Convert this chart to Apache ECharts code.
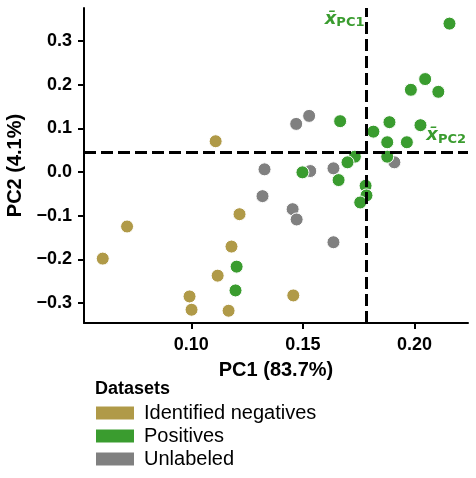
<!DOCTYPE html>
<html>
<head>
<meta charset="utf-8">
<script src="https://cdn.jsdelivr.net/npm/echarts@6/dist/echarts.min.js"></script>
<style>
  html, body { margin: 0; padding: 0; background: #fff; }
  #chart { width: 476px; height: 478px; }
</style>
</head>
<body>
<div id="chart"></div>
<script>
// PCA scores
const negativesPC1 = [0.1109, 0.0712, 0.0603, 0.1216, 0.1180, 0.1118, 0.0992, 0.1001, 0.1167, 0.1457];
const negativesPC2 = [0.0706, -0.1248, -0.1984, -0.0966, -0.1708, -0.2375, -0.2851, -0.3156, -0.3179, -0.2828];

const positivesPC1 = [0.2157, 0.2048, 0.1984, 0.2107, 0.1667, 0.1888, 0.2027, 0.1816, 0.1878, 0.1966,
                      0.1878, 0.1733, 0.1700, 0.1498, 0.1660, 0.1781, 0.1785, 0.1757, 0.1203, 0.1198];
const positivesPC2 = [0.3402, 0.2131, 0.1885, 0.1839, 0.1166, 0.1143, 0.1074, 0.0926, 0.0683, 0.0683,
                      0.0352, 0.0352, 0.0223, -0.0007, -0.0184, -0.0315, -0.0536, -0.0697, -0.2168, -0.2713];

const unlabeledPC1 = [0.1470, 0.1528, 0.1910, 0.1637, 0.1533, 0.1328, 0.1319, 0.1454, 0.1472, 0.1637];
const unlabeledPC2 = [0.1103, 0.1287, 0.0223, 0.0085, 0.0023, 0.0062, -0.0552, -0.0851, -0.1087, -0.1609];

const meanPC1 = 0.1785;
const meanPC2 = 0.045;

const xTicks = [0.10, 0.15, 0.20];
const yTicks = [-0.3, -0.2, -0.1, 0.0, 0.1, 0.2, 0.3];

const legendNames = ['Identified negatives', 'Positives', 'Unlabeled'];
const colors = { neg: '#b09a48', pos: '#3a9c2f', unl: '#808080' };

const zip = (xs, ys) => xs.map((x, i) => [x, ys[i]]);

const chart = echarts.init(document.getElementById('chart'));
const font = 'Liberation Sans, Arial, sans-serif';

const pointStyle = (c) => ({ color: c, borderColor: '#fff', borderWidth: 1, opacity: 1 });

chart.setOption({
    animation: false,
    grid: { left: 84, right: 8, top: 8, bottom: 155, outerBoundsMode: 'none', containLabel: false },
    title: {
        text: 'Datasets', left: 90, top: 375,
        textStyle: { fontFamily: font, fontWeight: 'bold', fontSize: 18, color: '#000' }
    },
    legend: {
        data: legendNames,
        orient: 'vertical', left: 89, top: 398,
        icon: 'rect', itemWidth: 40, itemHeight: 15, itemGap: 3,
        textStyle: { fontFamily: font, fontSize: 20, color: '#000', padding: [0, 0, 0, 4] }
    },
    xAxis: {
        type: 'value', min: 0.0519, max: 0.224,
        name: 'PC1 (83.7%)', nameLocation: 'middle', nameGap: 37,
        nameTextStyle: { fontFamily: font, fontWeight: 'bold', fontSize: 20, color: '#000' },
        splitLine: { show: false },
        axisLine: { onZero: false, lineStyle: { color: '#000', width: 2 } },
        axisTick: { customValues: xTicks, length: 6, lineStyle: { color: '#000', width: 2 } },
        axisLabel: {
            customValues: xTicks, margin: 13,
            fontFamily: font, fontWeight: 'bold', fontSize: 18, color: '#000',
            formatter: v => v.toFixed(2)
        }
    },
    yAxis: {
        type: 'value', min: -0.346, max: 0.376,
        name: 'PC2 (4.1%)', nameLocation: 'middle', nameGap: 56,
        nameTextStyle: { fontFamily: font, fontWeight: 'bold', fontSize: 20, color: '#000' },
        splitLine: { show: false },
        axisLine: { onZero: false, lineStyle: { color: '#000', width: 2 } },
        axisTick: { customValues: yTicks, length: 6, lineStyle: { color: '#000', width: 2 } },
        axisLabel: {
            customValues: yTicks, margin: 12,
            fontFamily: font, fontWeight: 'bold', fontSize: 18, color: '#000',
            formatter: v => (v < -1e-9 ? '\u2212' : '') + Math.abs(v).toFixed(1)
        }
    },
    series: [
        {
            name: 'Unlabeled', type: 'scatter', symbolSize: 13,
            data: zip(unlabeledPC1, unlabeledPC2),
            itemStyle: pointStyle(colors.unl),
            markLine: {
                silent: true, symbol: 'none', animation: false, precision: 4,
                label: { show: false },
                lineStyle: { color: '#000', width: 3, type: [12, 5] },
                data: [{ xAxis: meanPC1 }, { yAxis: meanPC2 }]
            }
        },
        {
            name: 'Positives', type: 'scatter', symbolSize: 13,
            data: zip(positivesPC1, positivesPC2),
            itemStyle: pointStyle(colors.pos)
        },
        {
            name: 'Identified negatives', type: 'scatter', symbolSize: 13,
            data: zip(negativesPC1, negativesPC2),
            itemStyle: pointStyle(colors.neg)
        }
    ]
});

// mean labels placed next to the dashed lines
const meanRich = {
    x: { fontFamily: 'DejaVu Sans', fontWeight: 'bold', fontStyle: 'italic', fontSize: 18, fill: colors.pos },
    s: { fontFamily: 'DejaVu Sans', fontWeight: 'bold', fontSize: 13, fill: colors.pos, padding: [8, 0, 0, 0] }
};
const [vx] = chart.convertToPixel({ gridIndex: 0 }, [meanPC1, 0]);
const [, hy] = chart.convertToPixel({ gridIndex: 0 }, [0, meanPC2]);
chart.setOption({
    graphic: [
        {
            type: 'text', right: 476 - vx + 2, top: 10,
            style: { text: '{x|x\u0304}{s|PC1}', rich: meanRich }
        },
        {
            type: 'text', right: 10, top: hy - 26,
            style: { text: '{x|x\u0304}{s|PC2}', rich: meanRich }
        }
    ]
});

window.addEventListener('resize', () => chart.resize());
</script>
</body>
</html>
